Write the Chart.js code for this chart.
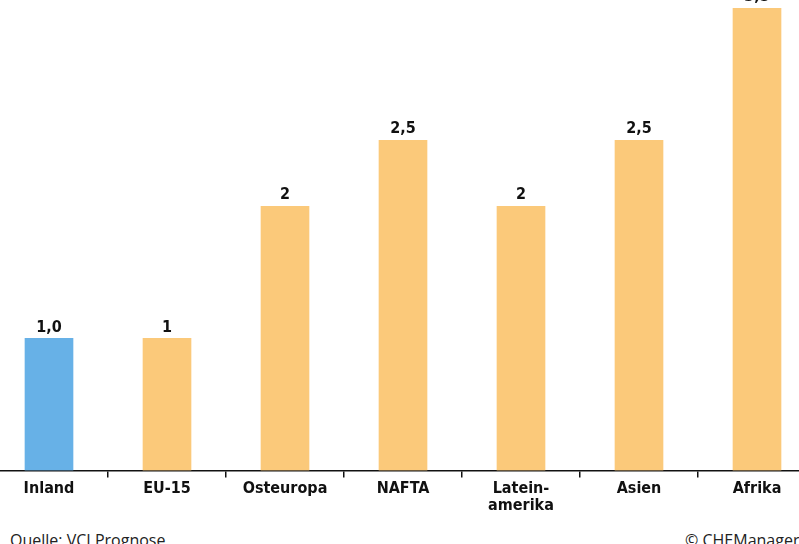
<!DOCTYPE html>
<html lang="de">
<head>
<meta charset="utf-8">
<script src="https://cdn.jsdelivr.net/npm/chart.js@4"></script>
<style>
  html, body { margin: 0; padding: 0; background: #fff; overflow: hidden; }
  body { width: 799px; height: 544px; position: relative; }
  #wrap { position: absolute; left: -10px; top: -63px; width: 826px; height: 580px; }
  .note { position: absolute; top: 529px; font: 16px "Open Sans", "Noto Sans", sans-serif; color: #222; white-space: nowrap; }
</style>
</head>
<body>
<div id="wrap"><canvas id="exportChart"></canvas></div>
<div class="note" style="left:10px">Quelle: VCI Prognose</div>
<div class="note" style="left:685px">© CHEManager</div>
<script>
// Regionen und erwartetes Wachstum (%)
const regions = ['Inland', 'EU-15', 'Osteuropa', 'NAFTA', ['Latein-', 'amerika'], 'Asien', 'Afrika'];
const growth = [1.0, 1, 2, 2.5, 2, 2.5, 3.5];
const labelDigits = [1, 0, 0, 1, 0, 1, 1];
const barColors = ['#67b1e7', '#fbc97a', '#fbc97a', '#fbc97a', '#fbc97a', '#fbc97a', '#fbc97a'];

const labelFont = '"DejaVu Sans Condensed", "Liberation Sans Narrow", sans-serif';

// Wert über jedem Balken
const valueLabels = {
    id: 'valueLabels',
    afterDatasetsDraw(chart) {
        const ctx = chart.ctx;
        const meta = chart.getDatasetMeta(0);
        ctx.save();
        ctx.font = 'bold 16px ' + labelFont;
        ctx.fillStyle = '#111';
        ctx.textAlign = 'center';
        ctx.textBaseline = 'bottom';
        meta.data.forEach((bar, i) => {
            const txt = growth[i].toFixed(labelDigits[i]).replace('.', ',');
            ctx.fillText(txt, bar.x, bar.y - 3);
        });
        ctx.restore();
    }
};

new Chart(document.getElementById('exportChart'), {
    type: 'bar',
    data: {
        labels: regions,
        datasets: [{
            data: growth,
            backgroundColor: barColors,
            borderWidth: 0,
            barThickness: 48
        }]
    },
    options: {
        responsive: true,
        maintainAspectRatio: false,
        animation: false,
        layout: { padding: 0 },
        plugins: {
            legend: { display: false },
            tooltip: { enabled: false }
        },
        scales: {
            x: {
                grid: {
                    display: true,
                    offset: true,
                    drawOnChartArea: false,
                    drawTicks: true,
                    tickLength: 7,
                    color: '#111',
                    lineWidth: 1.5
                },
                border: { display: true, color: '#111', width: 1.5 },
                ticks: {
                    color: '#111',
                    padding: 3,
                    maxRotation: 0,
                    autoSkip: false,
                    font: { family: labelFont, weight: 'bold', size: 16, lineHeight: 1.05 }
                }
            },
            y: {
                display: false,
                min: 0,
                max: 4.04
            }
        }
    },
    plugins: [valueLabels]
});
</script>
</body>
</html>
